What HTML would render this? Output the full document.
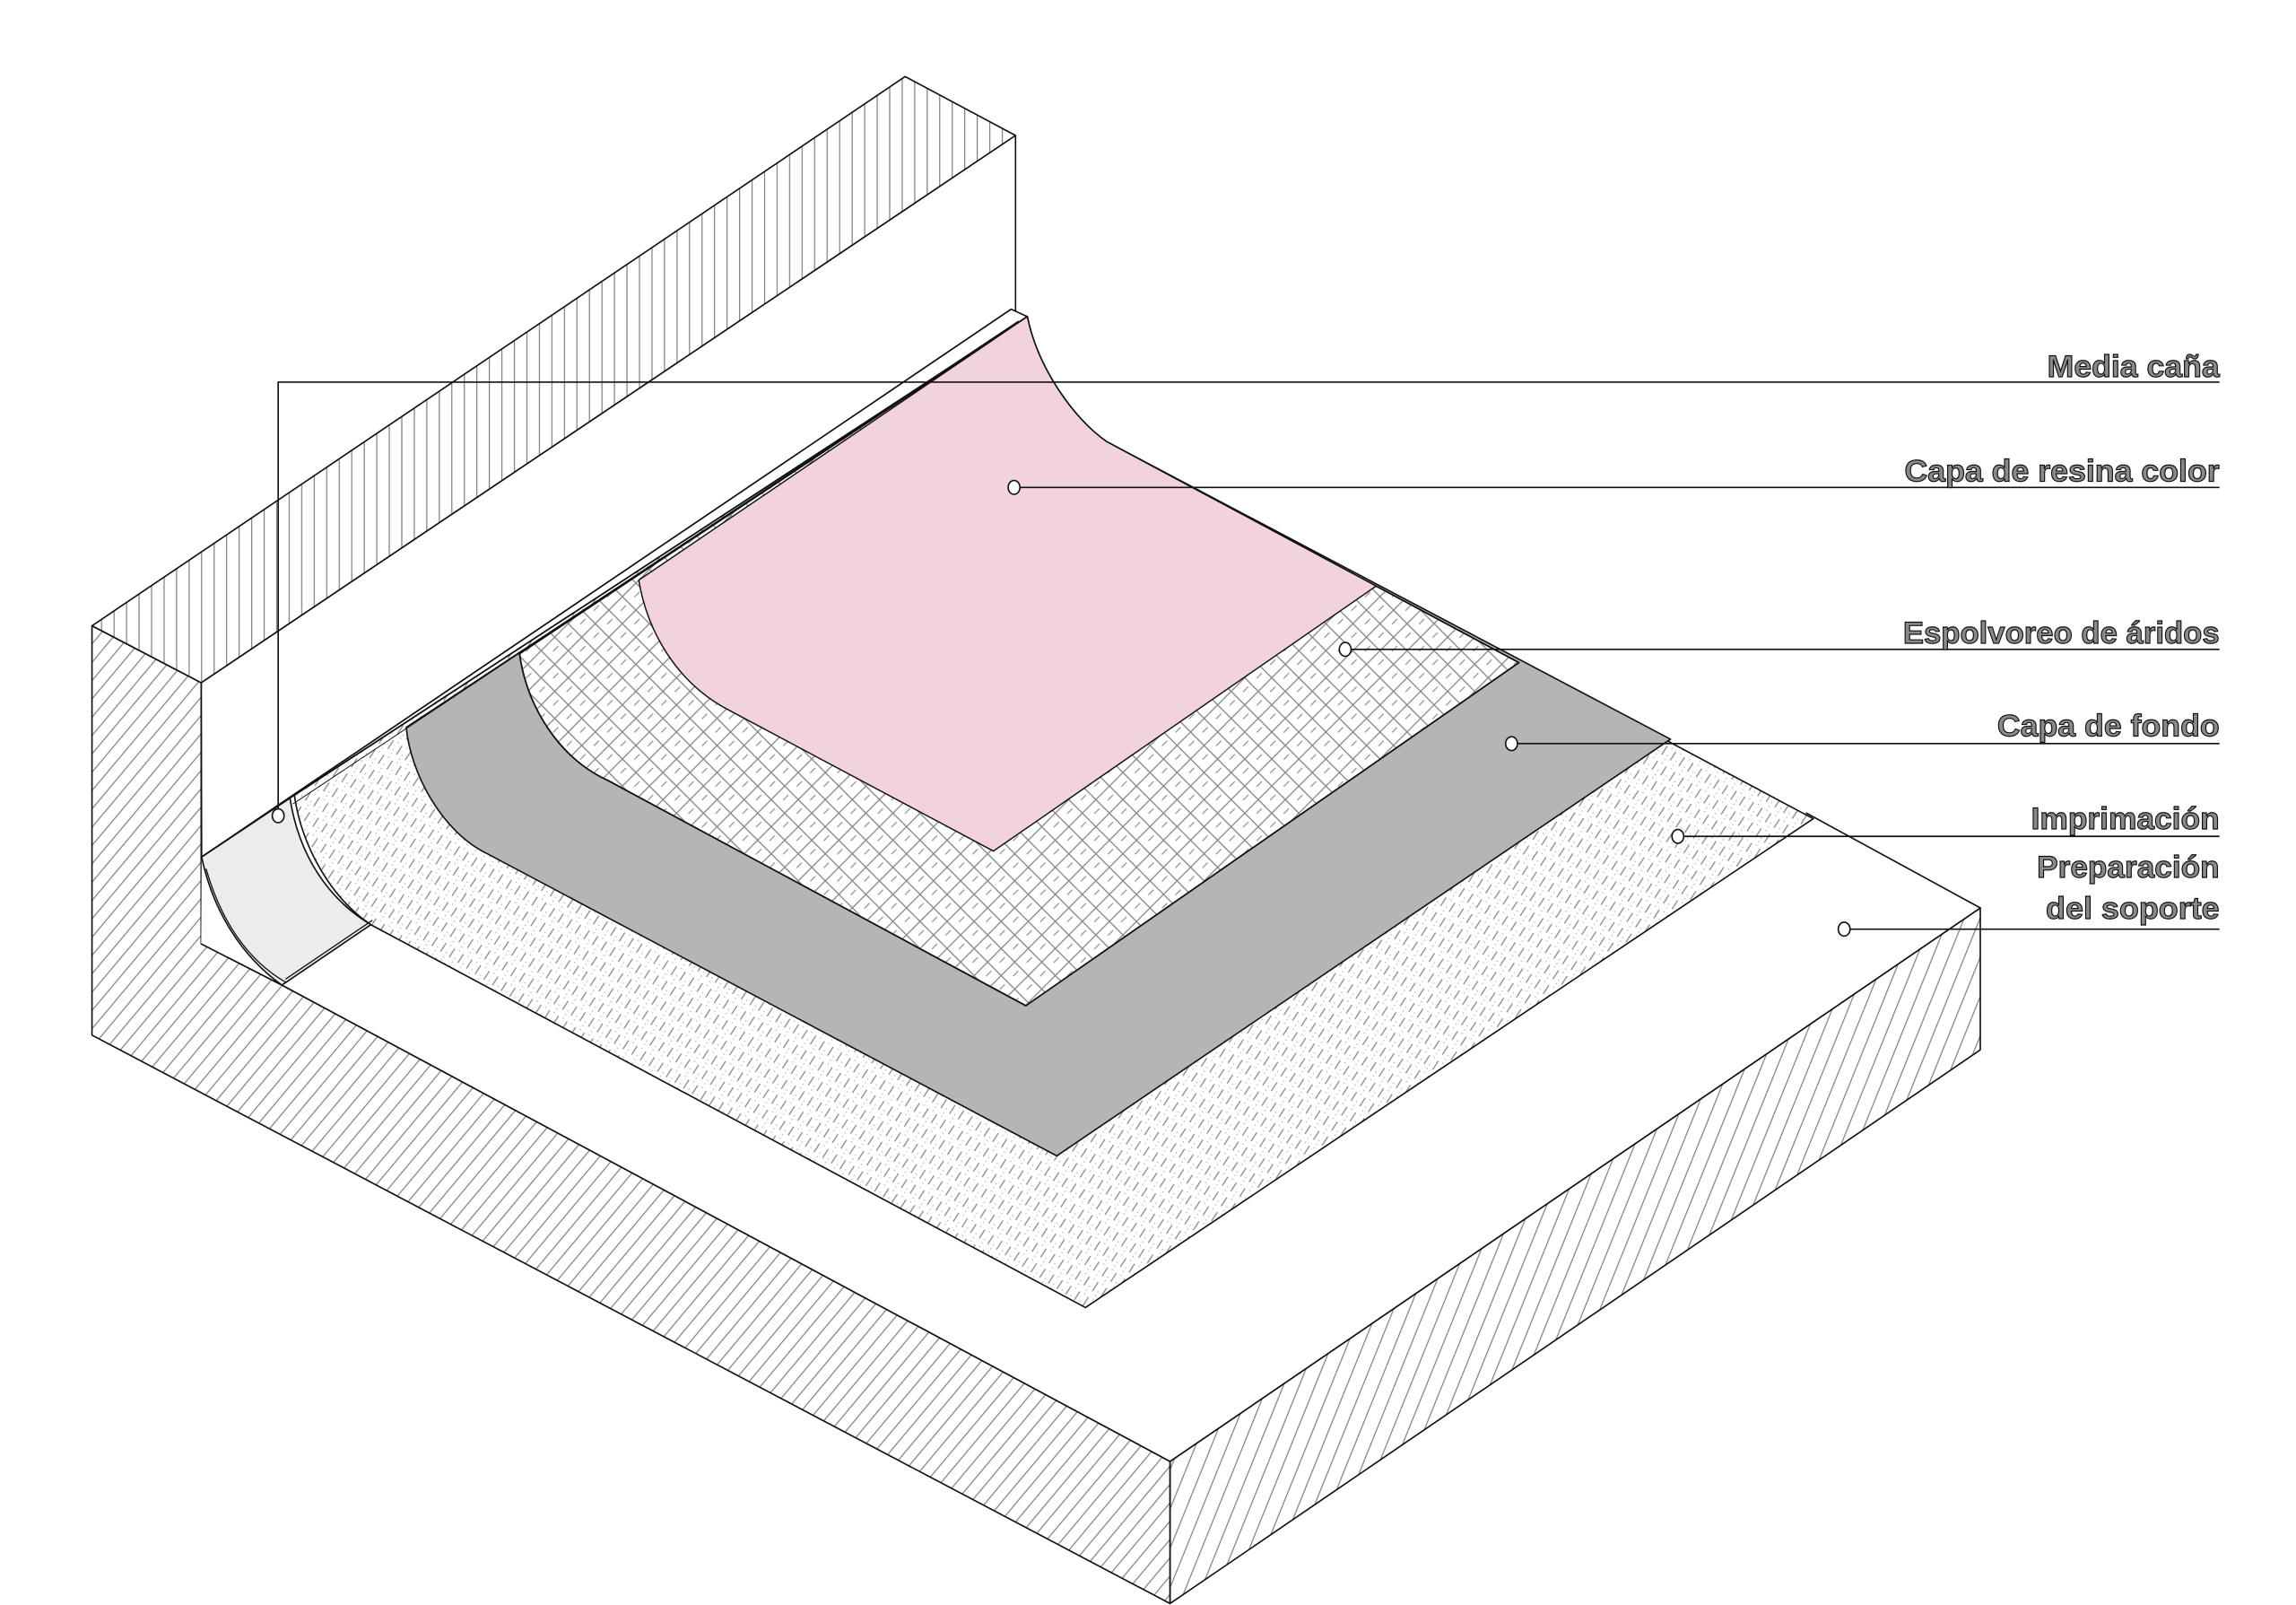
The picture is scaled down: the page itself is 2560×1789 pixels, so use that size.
<!DOCTYPE html>
<html><head><meta charset="utf-8"><style>html,body{margin:0;padding:0;background:#fff}svg{display:block}</style></head>
<body>
<svg width="2560" height="1789" viewBox="0 0 1560 1090" preserveAspectRatio="none" xmlns="http://www.w3.org/2000/svg">
<defs>
<pattern id="vert" patternUnits="userSpaceOnUse" width="8.5" height="10"><line x1="1" y1="0" x2="1" y2="10" stroke="#777" stroke-width="0.7"/></pattern>
<pattern id="lf" patternUnits="userSpaceOnUse" width="8" height="10" patternTransform="rotate(40)"><line x1="1" y1="0" x2="1" y2="10" stroke="#777" stroke-width="0.7"/></pattern>
<pattern id="rf" patternUnits="userSpaceOnUse" width="10" height="10" patternTransform="rotate(22)"><line x1="1" y1="0" x2="1" y2="10" stroke="#777" stroke-width="0.7"/></pattern>
<pattern id="imp" patternUnits="userSpaceOnUse" width="7" height="12" patternTransform="rotate(33)"><line x1="1" y1="0" x2="1" y2="7" stroke="#888" stroke-width="0.8"/><line x1="4.5" y1="5" x2="4.5" y2="12" stroke="#aaa" stroke-width="0.6" stroke-dasharray="1 2"/></pattern>
<pattern id="esp" patternUnits="userSpaceOnUse" width="13" height="13" patternTransform="rotate(45)"><line x1="0.5" y1="0" x2="0.5" y2="13" stroke="#888" stroke-width="0.8"/><line x1="0" y1="0.5" x2="13" y2="0.5" stroke="#888" stroke-width="0.8"/><line x1="6.5" y1="3" x2="6.5" y2="8" stroke="#888" stroke-width="0.7"/></pattern>
</defs>
<g stroke="#111" stroke-width="1" stroke-linejoin="round">
<polygon points="62.5,425 615,52 690,92 136.7,463.7" fill="url(#vert)"/>
<polygon points="136.7,463.7 690,92 690,212 687,210 137,582" fill="#fff"/>
<polygon points="62.5,425 136.7,463.7 136.7,641 191.5,669 795,992.5 795,1089 62.5,703" fill="url(#lf)"/>
<polygon points="795,992.5 1345.5,616.6 1345.5,713 795,1089" fill="url(#rf)"/>
<polygon points="191.5,669 795,992.5 1345.5,616.6 1227,552 687,210 137,582 136.7,641" fill="#fff" stroke="none"/>
<polyline points="136.7,641 191.5,669 795,992.5 1345.5,616.6 1227,552" fill="none"/>
<line x1="687" y1="210" x2="137" y2="582"/>
<line x1="687" y1="210" x2="698" y2="215"/>
<path d="M200,540 C205,575 225,610 252,628 L737.5,888 L1232,556 L752,300 C730,285 705,250 698,215 Z" fill="url(#imp)"/>
<path d="M276,494 C279,525 300,565 331.5,580 L718,785 L1135,502 L752,300 C730,285 705,250 698,215 Z" fill="#b5b5b5"/>
<path d="M353,444 C358,480 380,515 413,530 L697,683 L1032,450 L752,300 C730,285 705,250 698,215 Z" fill="#fff"/>
<path d="M353,444 C358,480 380,515 413,530 L697,683 L1032,450 L752,300 C730,285 705,250 698,215 Z" fill="url(#esp)"/>
<path d="M434,394 C440,430 460,462 491,480 L675,578 L935,398 L752,300 C730,285 705,250 698,215 Z" fill="#f2d3dc" stroke-width="0.9"/>
<line x1="698" y1="215" x2="197" y2="542"/>
<line x1="692" y1="218" x2="199" y2="546" stroke-width="0.6"/>
<path d="M197,542 C203,580 222,610 252,628 L191.5,669 C165,650 145,620 137,582 Z" fill="#ececec"/>
<path d="M140,590 C150,625 168,652 194,667" fill="none" stroke-width="0.8"/>
<line x1="194" y1="665" x2="253" y2="625" stroke-width="0.8"/>
<line x1="137" y1="582" x2="197" y2="542"/>
</g>
<g stroke="#111" stroke-width="1" fill="#fff">
<polyline points="189,549 189,259.5 1508,259.5" fill="none"/>
<line x1="693" y1="331" x2="1508" y2="331"/>
<line x1="918" y1="441" x2="1508" y2="441"/>
<line x1="1031" y1="505" x2="1508" y2="505"/>
<line x1="1144" y1="568" x2="1508" y2="568"/>
<line x1="1257" y1="631" x2="1508" y2="631"/>
<ellipse cx="189" cy="554" rx="4" ry="4.7"/>
<ellipse cx="689" cy="331" rx="4" ry="4.7"/>
<ellipse cx="914" cy="441" rx="4" ry="4.7"/>
<ellipse cx="1027" cy="505" rx="4" ry="4.7"/>
<ellipse cx="1140" cy="568" rx="4" ry="4.7"/>
<ellipse cx="1253" cy="631" rx="4" ry="4.7"/>
</g>
<g font-family="'Liberation Sans', sans-serif" font-weight="bold" font-size="21" fill="#8a8a8a" stroke="#111" stroke-width="0.7" text-anchor="end">
<text x="1508" y="256" textLength="117" lengthAdjust="spacingAndGlyphs">Media caña</text>
<text x="1508" y="327" textLength="214" lengthAdjust="spacingAndGlyphs">Capa de resina color</text>
<text x="1508" y="437" textLength="215" lengthAdjust="spacingAndGlyphs">Espolvoreo de áridos</text>
<text x="1508" y="500" textLength="151" lengthAdjust="spacingAndGlyphs">Capa de fondo</text>
<text x="1508" y="563" textLength="128" lengthAdjust="spacingAndGlyphs">Imprimación</text>
<text x="1508" y="596" textLength="124" lengthAdjust="spacingAndGlyphs">Preparación</text>
<text x="1508" y="624" textLength="118" lengthAdjust="spacingAndGlyphs">del soporte</text>
</g>
</svg>
</body></html>
